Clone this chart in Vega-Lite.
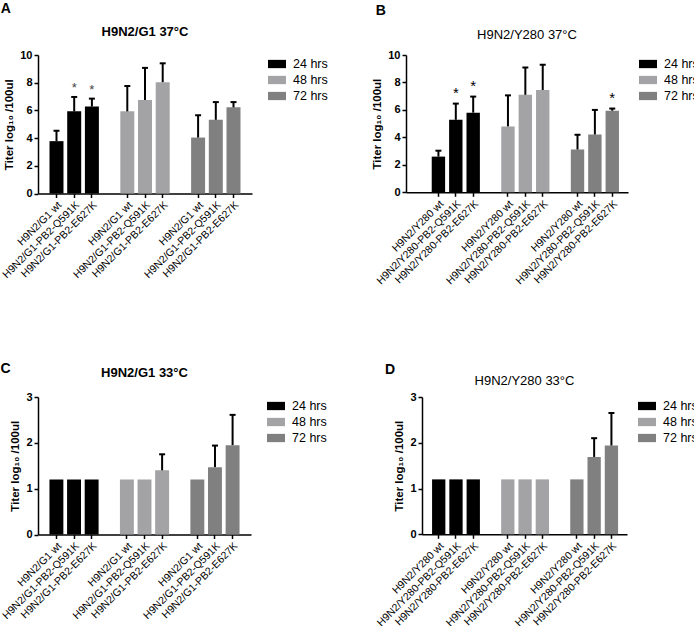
{
  "$schema": "https://vega.github.io/schema/vega-lite/v6.json",
  "padding": {"left": 0, "top": 2, "right": 0, "bottom": 0},
  "datasets": {
    "titers": [
      {"panel": "A", "strain": "H9N2/G1 wt", "time": "24 hrs", "value": 3.78, "upper": 4.53, "sig": ""},
      {"panel": "A", "strain": "H9N2/G1-PB2-Q591K", "time": "24 hrs", "value": 5.93, "upper": 6.97, "sig": "*"},
      {"panel": "A", "strain": "H9N2/G1-PB2-E627K", "time": "24 hrs", "value": 6.28, "upper": 6.85, "sig": "*"},
      {"panel": "A", "strain": "H9N2/G1 wt", "time": "48 hrs", "value": 5.93, "upper": 7.76, "sig": ""},
      {"panel": "A", "strain": "H9N2/G1-PB2-Q591K", "time": "48 hrs", "value": 6.75, "upper": 9.07, "sig": ""},
      {"panel": "A", "strain": "H9N2/G1-PB2-E627K", "time": "48 hrs", "value": 8.04, "upper": 9.4, "sig": ""},
      {"panel": "A", "strain": "H9N2/G1 wt", "time": "72 hrs", "value": 4.04, "upper": 5.65, "sig": ""},
      {"panel": "A", "strain": "H9N2/G1-PB2-Q591K", "time": "72 hrs", "value": 5.32, "upper": 6.6, "sig": ""},
      {"panel": "A", "strain": "H9N2/G1-PB2-E627K", "time": "72 hrs", "value": 6.22, "upper": 6.6, "sig": ""},
      {"panel": "B", "strain": "H9N2/Y280 wt", "time": "24 hrs", "value": 2.6, "upper": 3.03, "sig": ""},
      {"panel": "B", "strain": "H9N2/Y280-PB2-Q591K", "time": "24 hrs", "value": 5.28, "upper": 6.46, "sig": "*"},
      {"panel": "B", "strain": "H9N2/Y280-PB2-E627K", "time": "24 hrs", "value": 5.8, "upper": 6.97, "sig": "*"},
      {"panel": "B", "strain": "H9N2/Y280 wt", "time": "48 hrs", "value": 4.8, "upper": 7.06, "sig": ""},
      {"panel": "B", "strain": "H9N2/Y280-PB2-Q591K", "time": "48 hrs", "value": 7.1, "upper": 9.09, "sig": ""},
      {"panel": "B", "strain": "H9N2/Y280-PB2-E627K", "time": "48 hrs", "value": 7.45, "upper": 9.29, "sig": ""},
      {"panel": "B", "strain": "H9N2/Y280 wt", "time": "72 hrs", "value": 3.12, "upper": 4.19, "sig": ""},
      {"panel": "B", "strain": "H9N2/Y280-PB2-Q591K", "time": "72 hrs", "value": 4.21, "upper": 6.0, "sig": ""},
      {"panel": "B", "strain": "H9N2/Y280-PB2-E627K", "time": "72 hrs", "value": 5.94, "upper": 6.1, "sig": "*"},
      {"panel": "C", "strain": "H9N2/G1 wt", "time": "24 hrs", "value": 1.2, "upper": 1.2, "sig": ""},
      {"panel": "C", "strain": "H9N2/G1-PB2-Q591K", "time": "24 hrs", "value": 1.2, "upper": 1.2, "sig": ""},
      {"panel": "C", "strain": "H9N2/G1-PB2-E627K", "time": "24 hrs", "value": 1.2, "upper": 1.2, "sig": ""},
      {"panel": "C", "strain": "H9N2/G1 wt", "time": "48 hrs", "value": 1.2, "upper": 1.2, "sig": ""},
      {"panel": "C", "strain": "H9N2/G1-PB2-Q591K", "time": "48 hrs", "value": 1.2, "upper": 1.2, "sig": ""},
      {"panel": "C", "strain": "H9N2/G1-PB2-E627K", "time": "48 hrs", "value": 1.4, "upper": 1.75, "sig": ""},
      {"panel": "C", "strain": "H9N2/G1 wt", "time": "72 hrs", "value": 1.2, "upper": 1.2, "sig": ""},
      {"panel": "C", "strain": "H9N2/G1-PB2-Q591K", "time": "72 hrs", "value": 1.47, "upper": 1.94, "sig": ""},
      {"panel": "C", "strain": "H9N2/G1-PB2-E627K", "time": "72 hrs", "value": 1.95, "upper": 2.61, "sig": ""},
      {"panel": "D", "strain": "H9N2/Y280 wt", "time": "24 hrs", "value": 1.2, "upper": 1.2, "sig": ""},
      {"panel": "D", "strain": "H9N2/Y280-PB2-Q591K", "time": "24 hrs", "value": 1.2, "upper": 1.2, "sig": ""},
      {"panel": "D", "strain": "H9N2/Y280-PB2-E627K", "time": "24 hrs", "value": 1.2, "upper": 1.2, "sig": ""},
      {"panel": "D", "strain": "H9N2/Y280 wt", "time": "48 hrs", "value": 1.2, "upper": 1.2, "sig": ""},
      {"panel": "D", "strain": "H9N2/Y280-PB2-Q591K", "time": "48 hrs", "value": 1.2, "upper": 1.2, "sig": ""},
      {"panel": "D", "strain": "H9N2/Y280-PB2-E627K", "time": "48 hrs", "value": 1.2, "upper": 1.2, "sig": ""},
      {"panel": "D", "strain": "H9N2/Y280 wt", "time": "72 hrs", "value": 1.2, "upper": 1.2, "sig": ""},
      {"panel": "D", "strain": "H9N2/Y280-PB2-Q591K", "time": "72 hrs", "value": 1.69, "upper": 2.1, "sig": ""},
      {"panel": "D", "strain": "H9N2/Y280-PB2-E627K", "time": "72 hrs", "value": 1.94, "upper": 2.65, "sig": ""}
    ]
  },
  "data": {"name": "titers"},
  "transform": [{"calculate": "datum.strain + '|' + datum.time", "as": "bar"}],
  "resolve": {"scale": {"color": "independent", "x": "independent", "y": "independent"}, "legend": {"color": "independent"}},
  "spacing": 75,
  "vconcat": [
    {
      "spacing": 43,
      "resolve": {"scale": {"color": "independent", "x": "independent", "y": "independent"}, "legend": {"color": "independent"}},
      "hconcat": [
        {
          "title": {"text": "A", "anchor": "start", "fontSize": 14, "fontWeight": "bold", "offset": 10},
          "vconcat": [
            {
              "width": 214, "height": 138.5,
              "title": {"text": "H9N2/G1 37°C", "fontSize": 13, "fontWeight": "bold", "offset": 10},
              "transform": [{"filter": "datum.panel == 'A'"}],
              "encoding": {
                "x": {"field": "bar", "type": "nominal", "sort": null,
                  "scale": {"domain": ["H9N2/G1 wt|24 hrs", "H9N2/G1-PB2-Q591K|24 hrs", "H9N2/G1-PB2-E627K|24 hrs", "gap1", "H9N2/G1 wt|48 hrs", "H9N2/G1-PB2-Q591K|48 hrs", "H9N2/G1-PB2-E627K|48 hrs", "gap2", "H9N2/G1 wt|72 hrs", "H9N2/G1-PB2-Q591K|72 hrs", "H9N2/G1-PB2-E627K|72 hrs"], "paddingInner": 0.21, "paddingOuter": 0.65, "align": 0.5},
                  "axis": {"title": null, "labelAngle": -45, "labelExpr": "indexof(datum.value,'|') < 0 ? '' : split(datum.value,'|')[0]", "tickOpacity": {"condition": {"test": "indexof(datum.value,'|') < 0", "value": 0}, "value": 1}}}
              },
              "layer": [
                {"mark": {"type": "bar"},
                  "encoding": {
                    "y": {"field": "value", "type": "quantitative", "scale": {"domain": [0, 10], "nice": false}, "axis": {"values": [0, 2, 4, 6, 8, 10], "tickCount": 6, "title": "Titer log₁₀ /100ul"}},
                    "color": {"field": "time", "type": "nominal", "title": null, "legend": {"offset": 16}, "scale": {"domain": ["24 hrs", "48 hrs", "72 hrs"], "range": ["#000000", "#a3a3a6", "#808080"]}}
                  }},
                {"transform": [{"filter": "datum.upper > datum.value"}], "mark": {"type": "rule", "color": "#000", "strokeWidth": 2}, "encoding": {"y": {"field": "value", "type": "quantitative", "axis": {"values": [0, 2, 4, 6, 8, 10], "tickCount": 6, "title": "Titer log₁₀ /100ul"}}, "y2": {"field": "upper"}}},
                {"transform": [{"filter": "datum.upper > datum.value"}], "mark": {"type": "tick", "color": "#000", "thickness": 2, "size": 6, "opacity": 1}, "encoding": {"y": {"field": "upper", "type": "quantitative", "axis": {"values": [0, 2, 4, 6, 8, 10], "tickCount": 6, "title": "Titer log₁₀ /100ul"}}}},
                {"transform": [{"filter": "datum.sig == '*'"}], "mark": {"type": "text", "dy": -9, "fontSize": 13, "color": "#444"}, "encoding": {"y": {"field": "upper", "type": "quantitative", "axis": {"values": [0, 2, 4, 6, 8, 10], "tickCount": 6, "title": "Titer log₁₀ /100ul"}}, "text": {"field": "sig"}}}
              ]
            }
          ]
        },
        {
          "title": {"text": "B", "anchor": "start", "fontSize": 14, "fontWeight": "bold", "offset": 11, "dx": 4},
          "vconcat": [
            {
              "width": 222, "height": 137.3,
              "title": {"text": "H9N2/Y280 37°C", "fontSize": 13, "fontWeight": "normal", "offset": 7, "dx": 10},
              "transform": [{"filter": "datum.panel == 'B'"}],
              "encoding": {
                "x": {"field": "bar", "type": "nominal", "sort": null,
                  "scale": {"domain": ["H9N2/Y280 wt|24 hrs", "H9N2/Y280-PB2-Q591K|24 hrs", "H9N2/Y280-PB2-E627K|24 hrs", "gap1", "H9N2/Y280 wt|48 hrs", "H9N2/Y280-PB2-Q591K|48 hrs", "H9N2/Y280-PB2-E627K|48 hrs", "gap2", "H9N2/Y280 wt|72 hrs", "H9N2/Y280-PB2-Q591K|72 hrs", "H9N2/Y280-PB2-E627K|72 hrs"], "paddingInner": 0.23, "paddingOuter": 1.0, "align": 0.74},
                  "axis": {"title": null, "labelAngle": -45, "labelExpr": "indexof(datum.value,'|') < 0 ? '' : split(datum.value,'|')[0]", "tickOpacity": {"condition": {"test": "indexof(datum.value,'|') < 0", "value": 0}, "value": 1}}}
              },
              "layer": [
                {"mark": {"type": "bar"},
                  "encoding": {
                    "y": {"field": "value", "type": "quantitative", "scale": {"domain": [0, 10], "nice": false}, "axis": {"values": [0, 2, 4, 6, 8, 10], "tickCount": 6, "title": "Titer log₁₀ /100ul"}},
                    "color": {"field": "time", "type": "nominal", "title": null, "legend": {"offset": 11}, "scale": {"domain": ["24 hrs", "48 hrs", "72 hrs"], "range": ["#000000", "#a3a3a6", "#808080"]}}
                  }},
                {"transform": [{"filter": "datum.upper > datum.value"}], "mark": {"type": "rule", "color": "#000", "strokeWidth": 2}, "encoding": {"y": {"field": "value", "type": "quantitative", "axis": {"values": [0, 2, 4, 6, 8, 10], "tickCount": 6, "title": "Titer log₁₀ /100ul"}}, "y2": {"field": "upper"}}},
                {"transform": [{"filter": "datum.upper > datum.value"}], "mark": {"type": "tick", "color": "#000", "thickness": 2, "size": 6, "opacity": 1}, "encoding": {"y": {"field": "upper", "type": "quantitative", "axis": {"values": [0, 2, 4, 6, 8, 10], "tickCount": 6, "title": "Titer log₁₀ /100ul"}}}},
                {"transform": [{"filter": "datum.sig == '*'"}], "mark": {"type": "text", "dy": -11, "fontSize": 15, "color": "#000"}, "encoding": {"y": {"field": "upper", "type": "quantitative", "axis": {"values": [0, 2, 4, 6, 8, 10], "tickCount": 6, "title": "Titer log₁₀ /100ul"}}, "text": {"field": "sig"}}}
              ]
            }
          ]
        }
      ]
    },
    {
      "spacing": 48,
      "resolve": {"scale": {"color": "independent", "x": "independent", "y": "independent"}, "legend": {"color": "independent"}},
      "hconcat": [
        {
          "title": {"text": "C", "anchor": "start", "fontSize": 14, "fontWeight": "bold", "offset": -9},
          "vconcat": [
            {
              "width": 213, "height": 137.5,
              "title": {"text": "H9N2/G1 33°C", "fontSize": 13, "fontWeight": "bold", "offset": 11},
              "transform": [{"filter": "datum.panel == 'C'"}],
              "encoding": {
                "x": {"field": "bar", "type": "nominal", "sort": null,
                  "scale": {"domain": ["H9N2/G1 wt|24 hrs", "H9N2/G1-PB2-Q591K|24 hrs", "H9N2/G1-PB2-E627K|24 hrs", "gap1", "H9N2/G1 wt|48 hrs", "H9N2/G1-PB2-Q591K|48 hrs", "H9N2/G1-PB2-E627K|48 hrs", "gap2", "H9N2/G1 wt|72 hrs", "H9N2/G1-PB2-Q591K|72 hrs", "H9N2/G1-PB2-E627K|72 hrs"], "paddingInner": 0.21, "paddingOuter": 0.65, "align": 0.5},
                  "axis": {"title": null, "labelAngle": -45, "labelExpr": "indexof(datum.value,'|') < 0 ? '' : split(datum.value,'|')[0]", "tickOpacity": {"condition": {"test": "indexof(datum.value,'|') < 0", "value": 0}, "value": 1}}}
              },
              "layer": [
                {"mark": {"type": "bar"},
                  "encoding": {
                    "y": {"field": "value", "type": "quantitative", "scale": {"domain": [0, 3], "nice": false}, "axis": {"values": [0, 1, 2, 3], "tickCount": 4, "title": "Titer log₁₀ /100ul"}},
                    "color": {"field": "time", "type": "nominal", "title": null, "legend": {"offset": 16}, "scale": {"domain": ["24 hrs", "48 hrs", "72 hrs"], "range": ["#000000", "#a3a3a6", "#808080"]}}
                  }},
                {"transform": [{"filter": "datum.upper > datum.value"}], "mark": {"type": "rule", "color": "#000", "strokeWidth": 2}, "encoding": {"y": {"field": "value", "type": "quantitative", "axis": {"values": [0, 1, 2, 3], "tickCount": 4, "title": "Titer log₁₀ /100ul"}}, "y2": {"field": "upper"}}},
                {"transform": [{"filter": "datum.upper > datum.value"}], "mark": {"type": "tick", "color": "#000", "thickness": 2, "size": 6, "opacity": 1}, "encoding": {"y": {"field": "upper", "type": "quantitative", "axis": {"values": [0, 1, 2, 3], "tickCount": 4, "title": "Titer log₁₀ /100ul"}}}}
              ]
            }
          ]
        },
        {
          "title": {"text": "D", "anchor": "start", "fontSize": 14, "fontWeight": "bold", "offset": -2, "dx": 10},
          "vconcat": [
            {
              "width": 205, "height": 137.3,
              "title": {"text": "H9N2/Y280 33°C", "fontSize": 13, "fontWeight": "normal", "offset": 3},
              "transform": [{"filter": "datum.panel == 'D'"}],
              "encoding": {
                "x": {"field": "bar", "type": "nominal", "sort": null,
                  "scale": {"domain": ["H9N2/Y280 wt|24 hrs", "H9N2/Y280-PB2-Q591K|24 hrs", "H9N2/Y280-PB2-E627K|24 hrs", "gap1", "H9N2/Y280 wt|48 hrs", "H9N2/Y280-PB2-Q591K|48 hrs", "H9N2/Y280-PB2-E627K|48 hrs", "gap2", "H9N2/Y280 wt|72 hrs", "H9N2/Y280-PB2-Q591K|72 hrs", "H9N2/Y280-PB2-E627K|72 hrs"], "paddingInner": 0.23, "paddingOuter": 0.55, "align": 0.53},
                  "axis": {"title": null, "labelAngle": -45, "labelExpr": "indexof(datum.value,'|') < 0 ? '' : split(datum.value,'|')[0]", "tickOpacity": {"condition": {"test": "indexof(datum.value,'|') < 0", "value": 0}, "value": 1}}}
              },
              "layer": [
                {"mark": {"type": "bar"},
                  "encoding": {
                    "y": {"field": "value", "type": "quantitative", "scale": {"domain": [0, 3], "nice": false}, "axis": {"values": [0, 1, 2, 3], "tickCount": 4, "title": "Titer log₁₀ /100ul"}},
                    "color": {"field": "time", "type": "nominal", "title": null, "legend": {"offset": 11}, "scale": {"domain": ["24 hrs", "48 hrs", "72 hrs"], "range": ["#000000", "#a3a3a6", "#808080"]}}
                  }},
                {"transform": [{"filter": "datum.upper > datum.value"}], "mark": {"type": "rule", "color": "#000", "strokeWidth": 2}, "encoding": {"y": {"field": "value", "type": "quantitative", "axis": {"values": [0, 1, 2, 3], "tickCount": 4, "title": "Titer log₁₀ /100ul"}}, "y2": {"field": "upper"}}},
                {"transform": [{"filter": "datum.upper > datum.value"}], "mark": {"type": "tick", "color": "#000", "thickness": 2, "size": 6, "opacity": 1}, "encoding": {"y": {"field": "upper", "type": "quantitative", "axis": {"values": [0, 1, 2, 3], "tickCount": 4, "title": "Titer log₁₀ /100ul"}}}}
              ]
            }
          ]
        }
      ]
    }
  ],
  "config": {
    "font": "Liberation Sans",
    "view": {"stroke": null},
    "title": {"color": "#000", "font": "Liberation Sans"},
    "axis": {"grid": false, "domainColor": "#000", "domainWidth": 1.5, "tickColor": "#000", "tickWidth": 1.5, "tickSize": 4, "labelColor": "#000", "titleColor": "#000", "labelPadding": 2, "labelBound": false},
    "axisY": {"labelFontSize": 11, "labelFontWeight": "bold", "titleFontSize": 11.5, "titleFontWeight": "bold", "titlePadding": 5, "labelOverlap": false},
    "axisX": {"labelFontSize": 10.5, "labelFontWeight": "normal", "labelOverlap": false},
    "legend": {"orient": "right", "symbolType": "M-1,-0.46L1,-0.46L1,0.46L-1,0.46Z", "symbolSize": 324, "symbolStrokeWidth": 0, "symbolOpacity": 1, "labelFontSize": 12.5, "labelColor": "#000", "labelOffset": 7, "rowPadding": 0}
  }
}
